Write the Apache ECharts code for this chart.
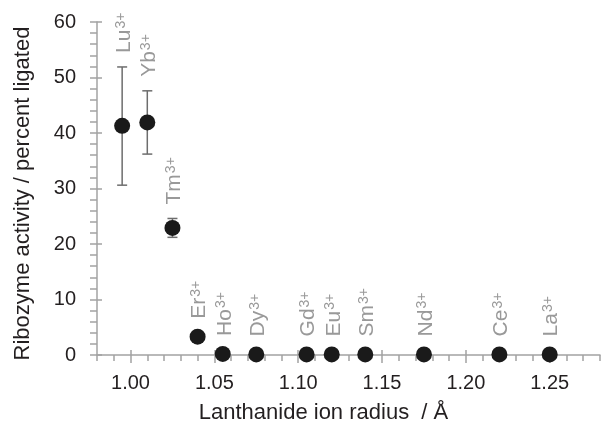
<!DOCTYPE html>
<html>
<head>
<meta charset="utf-8">
<script src="https://cdn.jsdelivr.net/npm/echarts@6/dist/echarts.min.js"></script>
<style>
html,body{margin:0;padding:0;background:#fff;}
#chart{width:601px;height:425px;}
</style>
</head>
<body>
<div id="chart"></div>
<script>
const ions = ['Lu','Yb','Tm','Er','Ho','Dy','Gd','Eu','Sm','Nd','Ce','La'];
const charge = '3+';
const radius = [0.995,1.01,1.025,1.04,1.055,1.075,1.105,1.12,1.14,1.175,1.22,1.25];
const activity = [41.3,41.9,22.9,3.3,0.2,0.1,0.1,0.1,0.1,0.1,0.1,0.1];
const errLow = [30.6,36.2,21.2,null,null,null,null,null,null,null,null,null];
const errHigh = [51.9,47.6,24.6,null,null,null,null,null,null,null,null,null];
const xMajorTicks = [1.00,1.05,1.10,1.15,1.20,1.25];
const xMinorTicks = [0.98,0.99,1.00,1.01,1.02,1.03,1.04,1.05,1.06,1.07,1.08,1.09,1.10,1.11,1.12,1.13,1.14,1.15,1.16,1.17,1.18,1.19,1.20,1.21,1.22,1.23,1.24,1.25,1.26,1.27,1.28];
const xTitle = 'Lanthanide ion radius  / Å';
const yTitle = 'Ribozyme activity / percent ligated';

const FONT = '"Liberation Sans", Arial, sans-serif';
const AXIS_COLOR = '#a3a3a3';
const TEXT_COLOR = '#231f20';
const ION_COLOR = '#999999';
const ION_SIZE = 21;
const SUP_SIZE = 14;

const measureCtx = document.createElement('canvas').getContext('2d');
function textWidth(t, size){ measureCtx.font = size + 'px ' + FONT; return measureCtx.measureText(t).width; }

const chart = echarts.init(document.getElementById('chart'), null, {renderer:'canvas'});

const pointData = radius.map((r,i)=>[r, activity[i]]);
const errData = [];
radius.forEach((r,i)=>{ if(errLow[i]!=null) errData.push([r, errLow[i], errHigh[i]]); });
const labelData = radius.map((r,i)=>[r, errHigh[i]!=null ? errHigh[i] : activity[i], errHigh[i]!=null ? 1 : 0, i]);

const xBase = {type:'value', min:0.98, max:1.28, position:'bottom', offset:0, splitLine:{show:false}};
const yBase = {type:'value', min:0, max:60, interval:10, position:'left', offset:0, splitLine:{show:false}};

chart.setOption({
  animation:false,
  grid:{left:97, right:1, top:22, bottom:70, containLabel:false, outerBoundsMode:'none'},
  xAxis:[
    Object.assign({}, xBase, {
      axisLine:{show:true, onZero:false, lineStyle:{color:AXIS_COLOR, width:1.5}},
      axisTick:{show:true, inside:false, length:6, customValues:xMinorTicks, lineStyle:{color:AXIS_COLOR, width:1.5}},
      axisLabel:{show:false}
    }),
    Object.assign({}, xBase, {
      axisLine:{show:false, onZero:false},
      axisTick:{show:true, inside:false, length:8, customValues:xMajorTicks, lineStyle:{color:AXIS_COLOR, width:1.5}},
      axisLabel:{show:true, customValues:xMajorTicks, margin:18, fontSize:20, fontFamily:FONT, color:TEXT_COLOR,
        formatter:(v)=>v.toFixed(2)},
      name:xTitle, nameLocation:'middle', nameGap:47,
      nameTextStyle:{fontSize:22, fontFamily:FONT, color:TEXT_COLOR, padding:[0,50,0,0]}
    }),
    Object.assign({}, xBase, {
      axisLine:{show:false, onZero:false},
      axisTick:{show:true, inside:true, length:5, customValues:xMajorTicks, lineStyle:{color:AXIS_COLOR, width:1.5}},
      axisLabel:{show:false}
    })
  ],
  yAxis:[
    Object.assign({}, yBase, {
      axisLine:{show:true, onZero:false, lineStyle:{color:AXIS_COLOR, width:1.5}},
      axisTick:{show:true, inside:false, length:7, lineStyle:{color:AXIS_COLOR, width:1.5}},
      minorTick:{show:true, splitNumber:5, length:7, lineStyle:{color:AXIS_COLOR, width:1.5}},
      axisLabel:{show:true, margin:21, fontSize:20, fontFamily:FONT, color:TEXT_COLOR},
      name:yTitle, nameLocation:'middle', nameGap:63,
      nameTextStyle:{fontSize:22, fontFamily:FONT, color:TEXT_COLOR, padding:[0,10,0,0]}
    }),
    Object.assign({}, yBase, {
      axisLine:{show:false, onZero:false},
      axisTick:{show:true, inside:true, length:5, lineStyle:{color:AXIS_COLOR, width:1.5}},
      axisLabel:{show:false}
    })
  ],
  series:[
    {
      type:'custom', xAxisIndex:0, yAxisIndex:0, z:2,
      data:errData,
      renderItem:function(params, api){
        const x = api.value(0);
        const lo = api.coord([x, api.value(1)]);
        const hi = api.coord([x, api.value(2)]);
        const w = 5;
        const st = {stroke:'#6d6d6d', lineWidth:1.5, fill:null};
        return {type:'group', children:[
          {type:'line', shape:{x1:lo[0], y1:lo[1], x2:hi[0], y2:hi[1]}, style:st},
          {type:'line', shape:{x1:lo[0]-w, y1:lo[1], x2:lo[0]+w, y2:lo[1]}, style:st},
          {type:'line', shape:{x1:hi[0]-w, y1:hi[1], x2:hi[0]+w, y2:hi[1]}, style:st}
        ]};
      }
    },
    {
      type:'scatter', xAxisIndex:0, yAxisIndex:0, z:3,
      symbol:'circle', symbolSize:16,
      itemStyle:{color:'#1a1a1a', opacity:1},
      data:pointData
    },
    {
      type:'custom', xAxisIndex:0, yAxisIndex:0, z:4,
      data:labelData,
      renderItem:function(params, api){
        const p = api.coord([api.value(0), api.value(1)]);
        const hasErr = api.value(2) === 1;
        const off = hasErr ? 14 : 18;
        const name = ions[api.value(3)];
        const w = textWidth(name, ION_SIZE);
        return {
          type:'group', x:p[0] + 2, y:p[1]-off, rotation:Math.PI/2,
          children:[
            {type:'text', x:0, y:0, style:{text:name, font:ION_SIZE + 'px ' + FONT, fill:ION_COLOR, align:'left', verticalAlign:'middle'}},
            {type:'text', x:w + 1, y:-3.5, style:{text:charge, font:SUP_SIZE + 'px ' + FONT, fill:ION_COLOR, align:'left', verticalAlign:'middle'}}
          ]
        };
      }
    }
  ]
});
</script>
</body>
</html>
